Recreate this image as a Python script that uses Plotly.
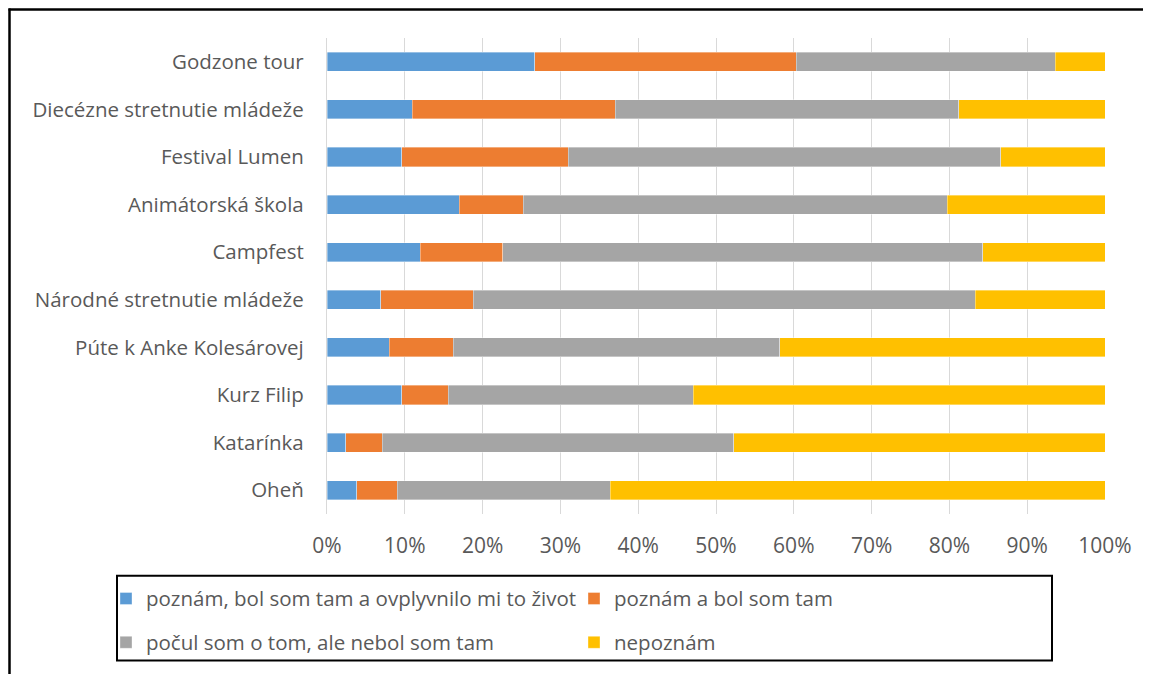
import plotly.graph_objects as go

categories = ["Godzone tour", "Diecézne stretnutie mládeže", "Festival Lumen",
              "Animátorská škola", "Campfest", "Národné stretnutie mládeže",
              "Púte k Anke Kolesárovej", "Kurz Filip", "Katarínka", "Oheň"]

series_names = ["poznám, bol som tam a ovplyvnilo mi to život",
                "poznám a bol som tam",
                "počul som o tom, ale nebol som tam",
                "nepoznám"]

influenced = [26.7, 11.0, 9.6, 17.0, 12.0, 6.9, 8.0, 9.6, 2.4, 3.8]
attended = [33.6, 26.1, 21.4, 8.2, 10.6, 11.9, 8.2, 6.0, 4.7, 5.2]
heard = [33.3, 44.2, 55.6, 54.5, 61.7, 64.5, 42.0, 31.5, 45.2, 27.4]
unknown = [6.4, 18.8, 13.4, 20.3, 15.7, 16.7, 41.8, 52.9, 47.7, 63.6]

x_ticks = [0, 10, 20, 30, 40, 50, 60, 70, 80, 90, 100]
x_tick_labels = ["0%", "10%", "20%", "30%", "40%", "50%", "60%", "70%", "80%", "90%", "100%"]

colors = ["#5B9BD5", "#ED7D31", "#A5A5A5", "#FFC000"]
values = [influenced, attended, heard, unknown]
legends = ["legend", "legend", "legend2", "legend2"]

# page body has an 8px margin; figure sized to the visible area
W, H = 1143, 666
PL, PR, PT, PB = 327, 1105, 38, 516   # plot edges in screen px
OFF = 8
L, T = PL - OFF, PT - OFF
R = W - (PR - OFF)
B = H - (PB - OFF)
pw, ph = PR - PL, PB - PT


def px(x):
    return (x - PL) / pw


def py(y):
    return (PB - y) / ph


FONT = "Open Sans"
TXT = "#595959"
FS = 20.5
FT = 21

fig = go.Figure()
for name, vals, col, lg in zip(series_names, values, colors, legends):
    fig.add_trace(go.Bar(
        y=categories, x=vals, name=name, orientation="h",
        marker=dict(color=col, line=dict(color="rgba(255,255,255,0.6)", width=0.6)),
        legend=lg,
    ))

fig.update_layout(
    width=W, height=H,
    margin=dict(l=L, r=R, t=T, b=B, pad=0),
    barmode="stack", barnorm="percent", bargap=0.6,
    plot_bgcolor="white", paper_bgcolor="white",
    font=dict(family=FONT, size=FS, color=TXT),
    xaxis=dict(range=[0, 100], tickvals=x_ticks, ticktext=x_tick_labels,
               showgrid=True, gridcolor="#D9D9D9", gridwidth=1.3,
               zeroline=False, showline=False, ticks="", ticklabelstandoff=17,
               tickfont=dict(family=FONT, size=FT, color=TXT), fixedrange=True),
    yaxis=dict(autorange="reversed", showgrid=False, showline=True,
               linecolor="#D9D9D9", linewidth=1.3, ticks="", ticklabelstandoff=18,
               tickfont=dict(family=FONT, size=FS, color=TXT)),
    legend=dict(orientation="h", x=px(106), y=py(601), xanchor="left", yanchor="middle",
                entrywidth=423, entrywidthmode="pixels", bgcolor="rgba(0,0,0,0)",
                font=dict(family=FONT, size=FS, color=TXT), traceorder="normal"),
    legend2=dict(orientation="h", x=px(106), y=py(645), xanchor="left", yanchor="middle",
                 entrywidth=423, entrywidthmode="pixels", bgcolor="rgba(0,0,0,0)",
                 font=dict(family=FONT, size=FS, color=TXT), traceorder="normal"),
    shapes=[
        dict(type="rect", xref="paper", yref="paper", x0=px(117), x1=px(1052),
             y0=py(578), y1=py(663), line=dict(color="black", width=2)),
        dict(type="line", xref="paper", yref="paper", x0=px(8.5), x1=px(1170),
             y0=py(9.5), y1=py(9.5), line=dict(color="black", width=2.5)),
        dict(type="line", xref="paper", yref="paper", x0=px(9.5), x1=px(9.5),
             y0=py(8.5), y1=py(700), line=dict(color="black", width=2.5)),
    ],
)

fig.write_html("out.html")
